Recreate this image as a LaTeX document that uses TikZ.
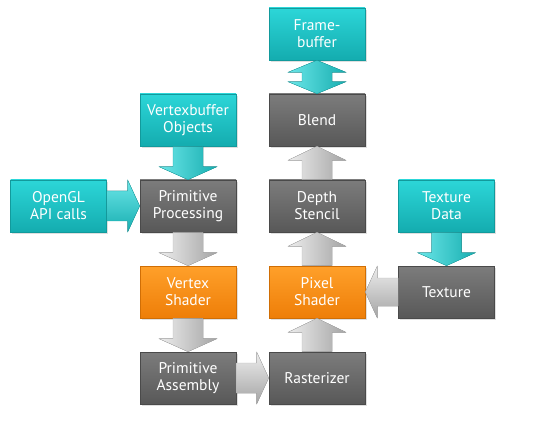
\documentclass[tikz,border=0pt]{standalone}
\usepackage{fontspec}
\setmainfont{PT Sans}
\usetikzlibrary{calc,shadows}
\definecolor{grayTop}{HTML}{7C7C7C}
\definecolor{grayBot}{HTML}{585858}
\definecolor{grayEdge}{HTML}{4A4A4A}
\definecolor{tealTop}{HTML}{2CD6D8}
\definecolor{tealBot}{HTML}{14ACAF}
\definecolor{tealEdge}{HTML}{129A9C}
\definecolor{orTop}{HTML}{FFA02A}
\definecolor{orBot}{HTML}{EE7E08}
\definecolor{orEdge}{HTML}{D06E05}
\definecolor{arrLight}{HTML}{EDEDED}
\definecolor{arrMid}{HTML}{CDCDCD}
\definecolor{arrDark}{HTML}{A4A4A4}
\definecolor{tarLight}{HTML}{6BE6E8}
\definecolor{tarMid}{HTML}{2BD2D4}
\definecolor{tarDark}{HTML}{17AEB0}
\tikzset{
  box/.style={minimum width=96pt, minimum height=52pt, inner sep=0pt, align=center,
    text=white, font=\fontsize{15.5}{17}\selectfont, line width=0.6pt,
    drop shadow={opacity=0.25, shadow xshift=1.5pt, shadow yshift=-2pt}},
  graybox/.style={box, top color=grayTop, bottom color=grayBot, draw=grayEdge},
  tealbox/.style={box, top color=tealTop, bottom color=tealBot, draw=tealEdge},
  orbox/.style={box, top color=orTop, bottom color=orBot, draw=orEdge},
  grayv/.style={left color=arrLight, middle color=arrMid, right color=arrDark, draw=arrDark!80, line width=0.3pt},
  grayh/.style={top color=arrLight, middle color=arrMid, bottom color=arrDark, draw=arrDark!80, line width=0.3pt},
  tealv/.style={left color=tarLight, middle color=tarMid, right color=tarDark, draw=tarDark, line width=0.3pt},
  tealh/.style={top color=tarLight, middle color=tarMid, bottom color=tarDark, draw=tarDark, line width=0.3pt},
}
% down arrow: style, from (above), to (below)
\newcommand\pipeDown[3]{%
  \filldraw[#1] ([xshift=-15pt]#2.south) -- ([xshift=-15pt,yshift=13pt]#3.north)
    -- ([xshift=-29pt,yshift=13pt]#3.north) -- (#3.north)
    -- ([xshift=29pt,yshift=13pt]#3.north) -- ([xshift=15pt,yshift=13pt]#3.north)
    -- ([xshift=15pt]#2.south) -- cycle;}
% up arrow: style, from (below), to (above)
\newcommand\pipeUp[3]{%
  \filldraw[#1] ([xshift=-15pt]#2.north) -- ([xshift=-15pt,yshift=-14pt]#3.south)
    -- ([xshift=-29pt,yshift=-14pt]#3.south) -- (#3.south)
    -- ([xshift=29pt,yshift=-14pt]#3.south) -- ([xshift=15pt,yshift=-14pt]#3.south)
    -- ([xshift=15pt]#2.north) -- cycle;}
% right arrow: style, from (left), to (right)
\newcommand\pipeRight[3]{%
  \filldraw[#1] ([yshift=15pt]#2.east) -- ([xshift=-12pt,yshift=15pt]#3.west)
    -- ([xshift=-12pt,yshift=26pt]#3.west) -- (#3.west)
    -- ([xshift=-12pt,yshift=-26pt]#3.west) -- ([xshift=-12pt,yshift=-15pt]#3.west)
    -- ([yshift=-15pt]#2.east) -- cycle;}
% left arrow: style, from (right), to (left)
\newcommand\pipeLeft[3]{%
  \filldraw[#1] ([yshift=14pt]#2.west) -- ([xshift=12pt,yshift=14pt]#3.east)
    -- ([xshift=12pt,yshift=26pt]#3.east) -- (#3.east)
    -- ([xshift=12pt,yshift=-26pt]#3.east) -- ([xshift=12pt,yshift=-14pt]#3.east)
    -- ([yshift=-14pt]#2.west) -- cycle;}
\begin{document}
\begin{tikzpicture}[x=1pt,y=-1pt]
\useasboundingbox (0,0) rectangle (545,427);
% boxes
\node[tealbox] (fb)  at (317,34)  {Frame-\\buffer};
\node[graybox] (bl)  at (317,120) {Blend};
\node[tealbox] (vbo) at (188,120) {Vertexbuffer\\Objects};
\node[tealbox] (api) at (58.5,206) {OpenGL\\API calls};
\node[graybox] (pp)  at (188,206) {Primitive\\Processing};
\node[graybox] (ds)  at (317,206) {Depth\\Stencil};
\node[tealbox] (td)  at (446.5,206) {Texture\\Data};
\node[orbox]   (vs)  at (188,292) {Vertex\\Shader};
\node[orbox]   (ps)  at (317,292) {Pixel\\Shader};
\node[graybox] (tx)  at (446.5,292) {Texture};
\node[graybox] (pa)  at (188,378) {Primitive\\Assembly};
\node[graybox] (ra)  at (317,378) {Rasterizer};
% connectors
\pipeDown{tealv}{vbo}{pp}
\pipeRight{tealh}{api}{pp}
\pipeDown{grayv}{pp}{vs}
\pipeDown{grayv}{vs}{pa}
\pipeRight{grayh}{pa}{ra}
\pipeUp{grayv}{ra}{ps}
\pipeLeft{grayh}{tx}{ps}
\pipeUp{grayv}{ps}{ds}
\pipeUp{grayv}{ds}{bl}
\pipeDown{tealv}{td}{tx}
% double arrow framebuffer <-> blend
\filldraw[tealv] (fb.south) -- ([xshift=29pt,yshift=-12pt]fb.south)
  -- ([xshift=15pt,yshift=-12pt]fb.south) -- ([xshift=15pt,yshift=12pt]bl.north)
  -- ([xshift=29pt,yshift=12pt]bl.north) -- (bl.north)
  -- ([xshift=-29pt,yshift=12pt]bl.north) -- ([xshift=-15pt,yshift=12pt]bl.north)
  -- ([xshift=-15pt,yshift=-12pt]fb.south) -- ([xshift=-29pt,yshift=-12pt]fb.south) -- cycle;
\end{tikzpicture}
\end{document}
